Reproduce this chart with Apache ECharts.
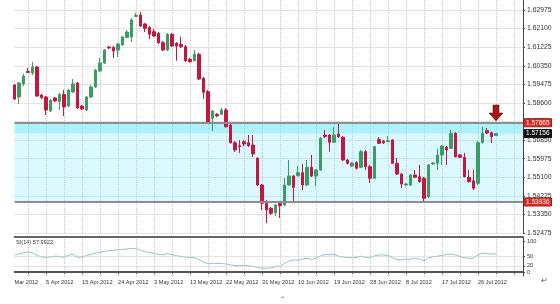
<!DOCTYPE html>
<html><head><meta charset="utf-8">
<script src="https://cdn.jsdelivr.net/npm/echarts@6/dist/echarts.min.js"></script>
<style>html,body{margin:0;padding:0;background:#fff}#c{width:560px;height:304px}</style>
</head><body><div id="c"></div>
<script>
const dates = ['28 Mar','29 Mar','30 Mar','1 Apr','2 Apr','3 Apr','4 Apr','5 Apr','6 Apr','8 Apr',
'9 Apr','10 Apr','11 Apr','12 Apr','13 Apr','15 Apr','16 Apr','17 Apr','18 Apr','19 Apr',
'20 Apr','22 Apr','23 Apr','24 Apr','25 Apr','26 Apr','27 Apr','29 Apr','30 Apr','1 May',
'2 May','3 May','4 May','6 May','7 May','8 May','9 May','10 May','11 May','13 May',
'14 May','15 May','16 May','17 May','18 May','20 May','21 May','22 May','23 May','24 May',
'25 May','27 May','28 May','29 May','30 May','31 May','1 Jun','3 Jun','4 Jun','5 Jun',
'6 Jun','7 Jun','8 Jun','10 Jun','11 Jun','12 Jun','13 Jun','14 Jun','15 Jun','17 Jun',
'18 Jun','19 Jun','20 Jun','21 Jun','22 Jun','24 Jun','25 Jun','26 Jun','27 Jun','28 Jun',
'29 Jun','1 Jul','2 Jul','3 Jul','4 Jul','5 Jul','6 Jul','8 Jul','9 Jul','10 Jul',
'11 Jul','12 Jul','13 Jul','15 Jul','16 Jul','17 Jul','18 Jul','19 Jul','20 Jul','22 Jul',
'23 Jul','24 Jul','25 Jul','26 Jul','27 Jul','29 Jul','30 Jul','31 Jul',
'1 Aug','2 Aug','3 Aug','5 Aug','6 Aug','7 Aug'];

const opens = [1.59444,1.58879,1.59491,1.60080,1.60009,1.60291,1.58973,1.58879,1.58219,1.58832,
1.58667,1.58996,1.58455,1.59114,1.59538,1.58455,1.58267,1.58879,1.59349,1.60103,
1.60480,1.61233,1.61209,1.61092,1.61328,1.61680,1.61704,1.62669,1.62740,1.62316,
1.62161,1.61953,1.61878,1.61435,1.61092,1.61831,1.61407,1.61360,1.61247,1.60654,
1.60588,1.60889,1.59759,1.59128,1.57876,1.58064,1.58064,1.58267,1.57560,1.56727,
1.56585,1.56774,1.56727,1.56618,1.55993,1.54735,1.53874,1.53638,1.53417,1.53874,
1.53794,1.54735,1.55159,1.55173,1.55314,1.54735,1.55568,1.55159,1.55441,1.57090,
1.57090,1.56745,1.57137,1.56981,1.55912,1.55630,1.55785,1.55568,1.56303,1.55597,
1.55051,1.56887,1.56806,1.56783,1.56854,1.55757,1.55253,1.54735,1.54735,1.55206,
1.55126,1.55051,1.54185,1.55724,1.55757,1.56148,1.56510,1.56463,1.57170,1.56148,
1.56040,1.55098,1.54938,1.54815,1.56727,1.57292,1.57198,1.57066];

const closes = [1.58784,1.59538,1.59867,1.60032,1.60291,1.58926,1.58855,1.58267,1.58737,1.58690,
1.58996,1.58408,1.59208,1.59491,1.58361,1.58314,1.58879,1.59349,1.60150,1.60480,
1.61092,1.61186,1.61045,1.61374,1.61704,1.61939,1.62504,1.62716,1.62222,1.62113,
1.61831,1.61751,1.61435,1.61092,1.61831,1.61280,1.61280,1.61247,1.60588,1.60541,
1.60889,1.59726,1.59100,1.57716,1.58219,1.57984,1.58267,1.57480,1.56727,1.56383,
1.56538,1.56665,1.56585,1.56195,1.54735,1.53874,1.53558,1.53403,1.53794,1.53761,
1.54735,1.55159,1.54627,1.55314,1.54735,1.55568,1.55159,1.55441,1.56934,1.57010,
1.56745,1.57090,1.57010,1.55912,1.55757,1.55771,1.55521,1.56303,1.55597,1.55051,
1.56538,1.56698,1.56727,1.56821,1.55757,1.55253,1.54782,1.54782,1.55206,1.55098,
1.54891,1.54109,1.55677,1.55771,1.56148,1.56571,1.56383,1.57170,1.56068,1.56040,
1.55126,1.54891,1.54580,1.56727,1.57170,1.57184,1.57010,1.57156];

const lows = [1.58737,1.58549,1.59397,1.60009,1.59914,1.58879,1.58784,1.58031,1.58172,1.58643,
1.58267,1.57984,1.58408,1.59067,1.58314,1.58267,1.58219,1.58832,1.59302,1.60056,
1.60433,1.61139,1.60715,1.60762,1.61280,1.61657,1.61468,1.62646,1.62175,1.61939,
1.61610,1.61704,1.61374,1.61045,1.61045,1.61233,1.60588,1.61186,1.60527,1.60503,
1.60550,1.59679,1.58784,1.57678,1.57278,1.57937,1.58031,1.57443,1.56689,1.56289,
1.56242,1.56571,1.56524,1.56054,1.54688,1.53558,1.52946,1.53323,1.53276,1.53182,
1.53746,1.54688,1.53949,1.55135,1.54500,1.54688,1.55112,1.54688,1.55394,1.56948,
1.56303,1.56712,1.56948,1.55865,1.55700,1.55582,1.55465,1.55535,1.55441,1.54830,
1.55018,1.56665,1.56665,1.56760,1.55724,1.55206,1.54594,1.54688,1.54688,1.55065,
1.54853,1.53902,1.54123,1.55677,1.55441,1.55677,1.55677,1.56430,1.56030,1.56007,
1.55088,1.54853,1.54500,1.54735,1.56689,1.57137,1.56712,1.57043];

const highs = [1.59491,1.59585,1.59962,1.60244,1.60527,1.60338,1.59020,1.58926,1.58784,1.58879,
1.59067,1.59208,1.59255,1.59726,1.59585,1.58502,1.58926,1.59444,1.60197,1.60715,
1.61139,1.61280,1.61280,1.61421,1.61751,1.62034,1.62598,1.62834,1.62881,1.62363,
1.62222,1.62081,1.61939,1.61515,1.61892,1.61892,1.61468,1.61718,1.61328,1.60715,
1.61092,1.60950,1.59820,1.59208,1.58267,1.58125,1.58361,1.58361,1.57607,1.56806,
1.56854,1.56854,1.57090,1.57090,1.56054,1.54782,1.54029,1.53699,1.53841,1.53935,
1.55065,1.55912,1.55206,1.55630,1.55724,1.55912,1.56148,1.55488,1.56996,1.57325,
1.57137,1.57466,1.57716,1.57043,1.55960,1.55818,1.55865,1.56383,1.56383,1.55677,
1.56571,1.56996,1.56854,1.57043,1.56901,1.56007,1.55300,1.54830,1.55253,1.55441,
1.55677,1.55112,1.55724,1.55818,1.56430,1.56618,1.56571,1.57325,1.57231,1.56195,
1.56242,1.55441,1.55441,1.56806,1.57480,1.57419,1.57254,1.57184];

const siValues = [55,59,62,65,62,54,48,47,49,51, 50,47,54,57,47,49,53,57,61,63,
67,69,70,72,73,74,76,75,70,65, 63,60,57,55,60,56,53,50,48,47,
46,40,32,26,28,28,27,26,23,21, 20,22,20,18,15,12,12,13,17,20,
28,35,39,38,42,44,41,45,52,57, 55,57,51,48,46,46,47,51,47,46,
52,55,55,53,46,40,39,41,42,43, 42,36,46,49,51,54,56,58,55,50,
46,44,45,55,61,59,58,57.9922];

const tickIndex = [0,7,15,23,31,39,47,55,63,71,79,87,95,103];
const tickLabels = ['Mar 2012','5 Apr 2012','15 Apr 2012','24 Apr 2012','3 May 2012','13 May 2012','22 May 2012','31 May 2012','10 Jun 2012','19 Jun 2012','28 Jun 2012','8 Jul 2012','17 Jul 2012','26 Jul 2012'];

const priceMin = 1.52475, priceMax = 1.63446, priceStep = 0.00875;
const resistance = 1.57665, support = 1.53936, lastPrice = 1.57156;
const arrowAt = [107, 1.58126];
const siTicks = [0, 20, 50, 100];
const siGuides = [50, 20];

const candles = opens.map((o, i) => [o, closes[i], lows[i], highs[i]]);
const UP = '#3c9c63', DOWN = '#c3173f';
const FONT = 'Liberation Sans';
const chart = echarts.init(document.getElementById('c'), null, {renderer: 'canvas'});
const dotted = {color: '#c8c8c8', type: 'dotted', width: 1};
const gridLine = (i) => i % 4 === 3;
const boxLabel = (v, bg, border) => ({show: true, position: 'end', distance: 1, formatter: v.toFixed(5),
  color: '#fff', backgroundColor: bg, borderColor: border, borderWidth: 0.5,
  padding: [1, 2, 0, 2], fontSize: 6.5, fontFamily: FONT});

chart.setOption({
  animation: false,
  backgroundColor: '#fff',
  grid: [
    {left: 14.6, right: 37, top: 0, height: 233},
    {left: 14.6, right: 37, top: 237, height: 39}
  ],
  xAxis: [
    {type: 'category', gridIndex: 0, data: dates, boundaryGap: false,
     axisLine: {show: false}, axisTick: {show: false}, axisLabel: {show: false},
     splitLine: {show: true, interval: gridLine, lineStyle: dotted}},
    {type: 'category', gridIndex: 1, data: dates, boundaryGap: false, position: 'bottom',
     axisLine: {lineStyle: {color: '#555', width: 2}},
     axisTick: {show: true, interval: gridLine, length: 2, lineStyle: {color: '#555'}},
     axisLabel: {interval: (i) => tickIndex.includes(i),
       formatter: (v, i) => tickLabels[tickIndex.indexOf(i)] || '',
       align: 'left', margin: 3, fontSize: 5.6, color: '#333', fontFamily: FONT},
     splitLine: {show: true, interval: gridLine, lineStyle: dotted}},
    {type: 'category', gridIndex: 1, data: dates, boundaryGap: false, position: 'top',
     axisLine: {lineStyle: {color: '#666', width: 2}}, axisTick: {show: false},
     axisLabel: {show: false}, splitLine: {show: false}}
  ],
  yAxis: [
    {type: 'value', gridIndex: 0, position: 'right', min: priceMin, max: priceMax, interval: priceStep,
     axisLine: {show: true, lineStyle: {color: '#444', width: 1}},
     axisTick: {show: true, length: 2, lineStyle: {color: '#444'}},
     axisLabel: {formatter: (v) => v.toFixed(5), fontSize: 6.8, color: '#333', margin: 4,
       fontFamily: FONT, showMaxLabel: false},
     splitLine: {show: true, lineStyle: dotted, showMaxLine: false}},
    {type: 'value', gridIndex: 1, position: 'right', min: -13, max: 113,
     axisLine: {show: true, lineStyle: {color: '#444', width: 1}},
     axisTick: {show: true, length: 2, customValues: siTicks, lineStyle: {color: '#444'}},
     axisLabel: {customValues: siTicks, fontSize: 5.6, color: '#333', margin: 4, fontFamily: FONT},
     splitLine: {show: false}}
  ],
  series: [
    {type: 'candlestick', xAxisIndex: 0, yAxisIndex: 0, data: candles, barWidth: 3,
     itemStyle: {color: UP, color0: DOWN, borderColor: UP, borderColor0: DOWN, borderWidth: 1},
     markArea: {silent: true, data: [
       [{yAxis: support, itemStyle: {color: 'rgba(150,235,248,0.35)'}}, {yAxis: lastPrice}],
       [{yAxis: lastPrice, itemStyle: {color: 'rgba(120,232,246,0.6)'}}, {yAxis: resistance}]
     ]},
     markLine: {silent: true, precision: 5, symbol: ['none', 'none'], data: [
       {yAxis: resistance, lineStyle: {color: '#8e8e8e', width: 2, type: 'solid'},
        label: boxLabel(resistance, '#d3261f', '#8a1010')},
       {yAxis: support, lineStyle: {color: '#8e8e8e', width: 2, type: 'solid'},
        label: boxLabel(support, '#d3261f', '#8a1010')},
       {yAxis: lastPrice, lineStyle: {color: 'rgba(0,0,0,0)', width: 1, type: 'solid'},
        label: boxLabel(lastPrice, '#111', '#111')}
     ]},
     markPoint: {silent: true, data: [
       {coord: arrowAt, symbol: 'path://M4,0L10,0L10,8L14,8L7,16L0,8L4,8Z', symbolSize: [14, 16],
        itemStyle: {color: '#a3161b', borderColor: '#5e0a0a', borderWidth: 0.5}, label: {show: false}}
     ]}
    },
    {type: 'line', xAxisIndex: 1, yAxisIndex: 1, data: siValues, showSymbol: false, symbol: 'none',
     lineStyle: {color: '#93c3c6', width: 1},
     markLine: {silent: true, symbol: ['none', 'none'], label: {show: false},
       lineStyle: {color: '#c8c8c8', type: 'dotted', width: 1},
       data: siGuides.map(v => ({yAxis: v}))}}
  ],
  graphic: [
    {type: 'text', left: 16, top: 239, style: {text: 'SI(14) ' + siValues[siValues.length - 1].toFixed(4),
      fontSize: 5.6, fill: '#333', fontFamily: FONT}},
    {type: 'text', left: 541, top: 277, style: {text: '\u21B5', fontSize: 8, fill: '#555'}},
    {type: 'text', left: 281, top: 295, style: {text: '\u21B5', fontSize: 5, fill: '#777'}}
  ]
});
</script></body></html>
